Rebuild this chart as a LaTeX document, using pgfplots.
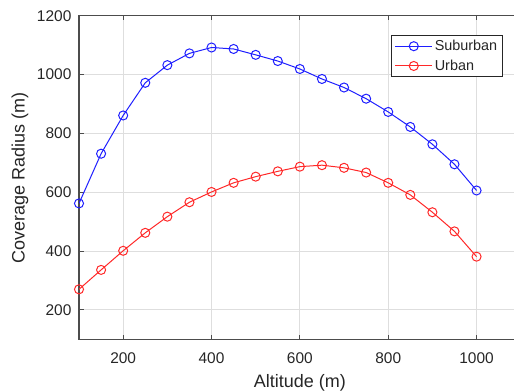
\documentclass[border=0pt]{standalone}
\usepackage{fontspec}
\setmainfont{Liberation Sans}
\usepackage{pgfplots}
\pgfplotsset{compat=1.18}
\definecolor{mblue}{RGB}{30,30,255}
\definecolor{mred}{RGB}{255,40,40}
\definecolor{mtext}{RGB}{38,38,38}
\definecolor{mgrid}{RGB}{222,222,222}
\begin{document}
\begin{tikzpicture}
\begin{axis}[
  at={(59.25pt,39.5pt)}, anchor=south west,
  scale only axis, width=331.3pt, height=242.7pt,
  xmin=100, xmax=1100, ymin=100, ymax=1200,
  xtick={200,400,600,800,1000}, ytick={200,400,600,800,1000,1200},
  grid=major, major grid style={mgrid, line width=0.7pt},
  axis line style={black!70, line width=0.9pt},
  tick align=inside, major tick length=3.5pt,
  tick style={black!70, line width=0.7pt},
  /pgf/number format/assume math mode=true,
  /pgf/number format/1000 sep={},
  ticklabel style={font=\fontsize{11.6}{13}\selectfont, text=mtext},
  yticklabel style={inner sep=0pt, anchor=east, xshift=-5.5pt},
  xticklabel style={inner sep=0pt, anchor=north, yshift=-9.5pt},
  xlabel={Altitude (m)}, ylabel={Coverage Radius (m)},
  every axis x label/.style={at={([yshift=-32.8pt]axis description cs:0.5,0)}, anchor=center,
    font=\fontsize{13.5}{16}\selectfont, text=mtext},
  every axis y label/.style={at={([xshift=-44.2pt]axis description cs:0,0.5)}, anchor=center, rotate=90,
    font=\fontsize{13.5}{16}\selectfont, text=mtext},
  legend image code/.code={\draw[mark repeat=2,mark phase=2,#1] plot coordinates {(0pt,0pt)(13.9pt,0pt)(27.8pt,0pt)};},
  legend style={at={(axis cs:1060,1135)}, anchor=north east, draw=mtext, line width=0.7pt,
    fill=white, font=\fontsize{10.8}{12}\selectfont, text=mtext,
    inner xsep=2.5pt, inner ysep=2pt, row sep=2.5pt,
    nodes={inner sep=1.5pt}},
  legend cell align=left,
]
\addplot[mblue, line width=0.75pt, mark=o, mark size=3.4pt, mark options={line width=0.75pt}] coordinates {
(100,562)(150,731)(200,861)(250,972)(300,1032)(350,1072)(400,1092)(450,1087)(500,1067)
(550,1046)(600,1019)(650,985)(700,956)(750,918)(800,873)(850,822)(900,763)(950,695)(1000,606)};
\addlegendentry{Suburban}
\addplot[mred, line width=0.75pt, mark=o, mark size=3.4pt, mark options={line width=0.75pt}] coordinates {
(100,270)(150,336)(200,401)(250,462)(300,517)(350,566)(400,601)(450,632)(500,653)
(550,671)(600,687)(650,692)(700,683)(750,667)(800,632)(850,591)(900,532)(950,467)(1000,381)};
\addlegendentry{Urban}
\end{axis}
\pgfresetboundingbox
\useasboundingbox (0,0) rectangle (385.5pt,294pt);
\end{tikzpicture}
\end{document}
